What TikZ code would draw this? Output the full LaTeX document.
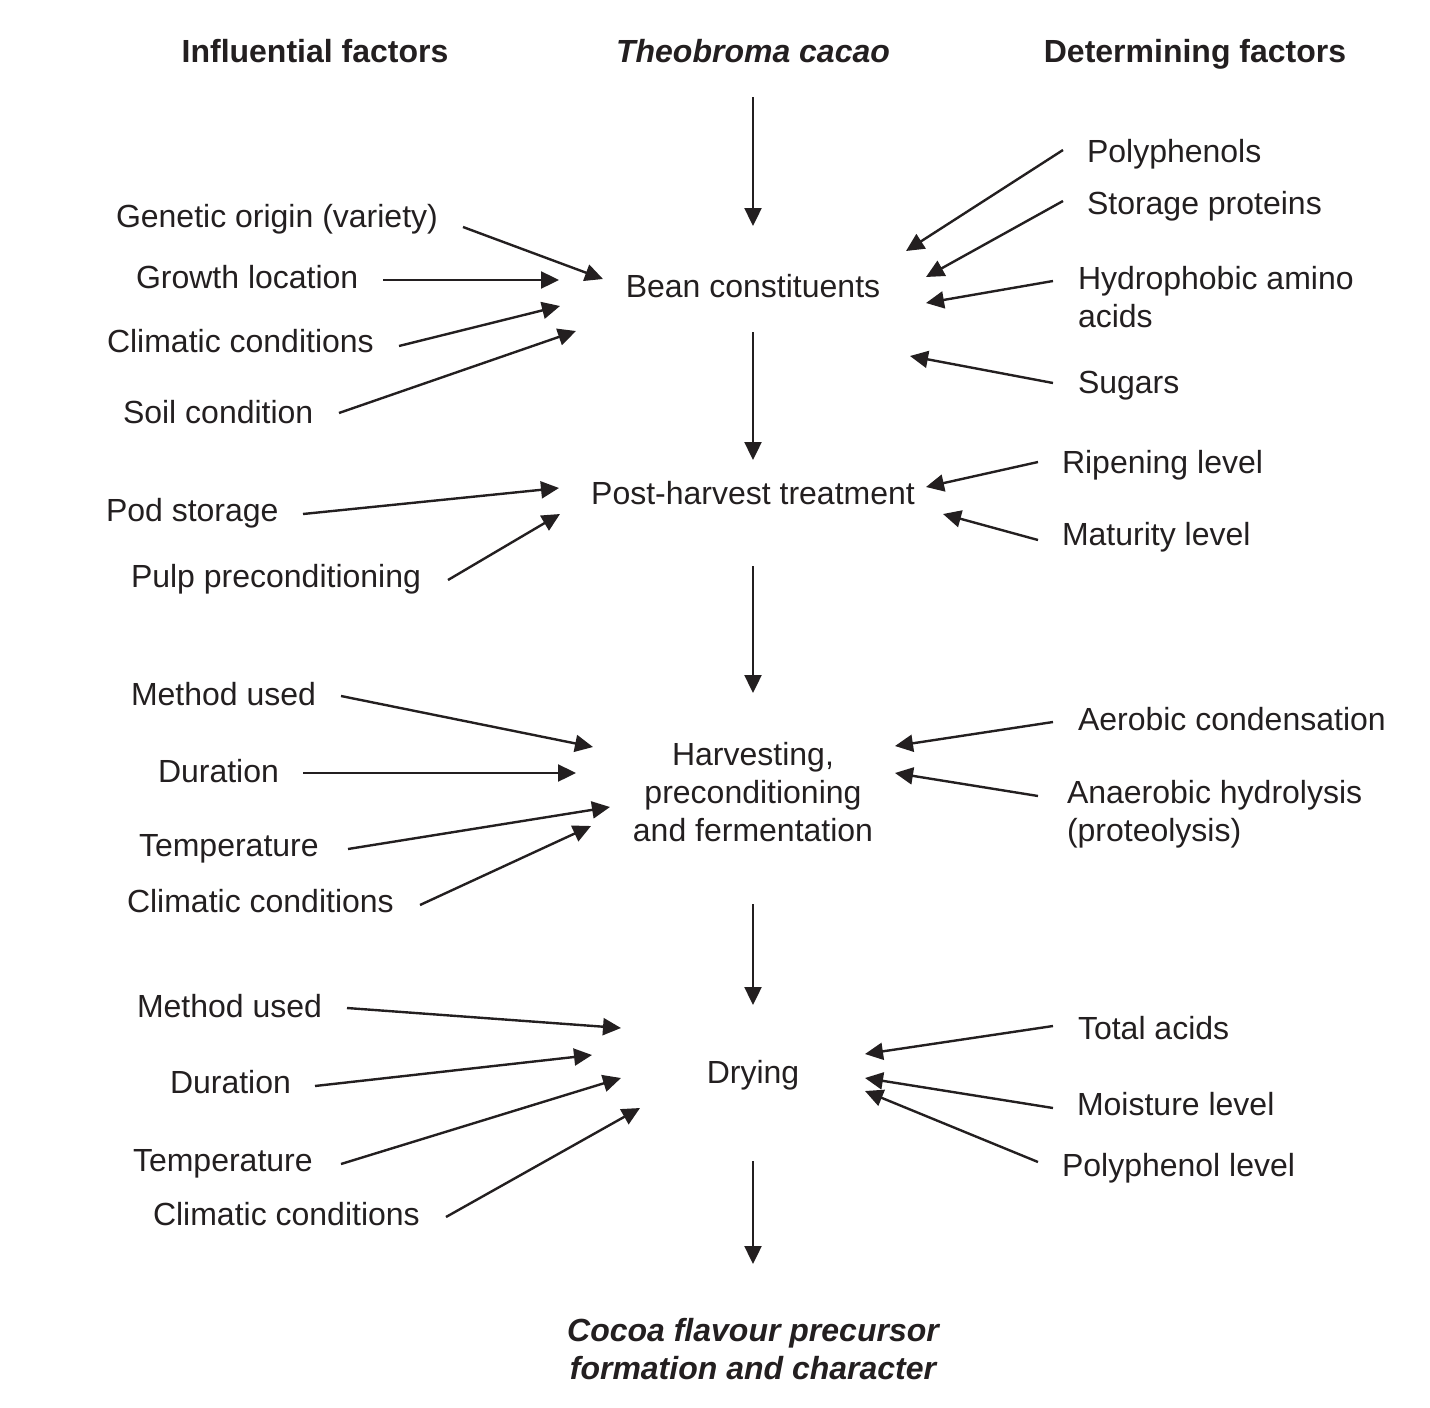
\documentclass[tikz,border=0pt]{standalone}
\usepackage{fontspec}
\setmainfont{Liberation Sans}
\usetikzlibrary{arrows.meta}
\definecolor{ink}{HTML}{231F20}
\begin{document}
\begin{tikzpicture}[x=0.5pt,y=-0.5pt,
  lbl/.style={inner sep=0pt,outer sep=0pt,text=ink,font=\fontsize{16}{19}\selectfont},
  lft/.style={lbl,anchor=base west},
  ctr/.style={lbl,anchor=base},
  head/.style={lbl,anchor=base,font=\fontsize{16}{19}\selectfont\bfseries},
  arr/.style={draw=ink,line width=1.2pt,-{Triangle[length=9pt,width=8.5pt]}}]
\useasboundingbox (0,0) rectangle (1430,1408);
% headings
\node[head] (hInf) at (315,62) {Influential factors};
\node[head,font=\fontsize{16}{19}\selectfont\bfseries\itshape] (hTheo) at (753,62) {Theobroma cacao};
\node[head] (hDet) at (1195,62) {Determining factors};
% centre column (multi-line nodes: base = last line)
\node[ctr] (bean) at (753,297) {Bean constituents};
\node[ctr] (post) at (753,504) {Post-harvest treatment};
\node[ctr,align=center] (harv) at (753,841) {Harvesting,\\preconditioning\\and fermentation};
\node[ctr] (dry) at (753,1083) {Drying};
\node[ctr,align=center,font=\fontsize{16}{19}\selectfont\bfseries\itshape] (cocoa) at (753,1379) {Cocoa flavour precursor\\formation and character};
% left labels
\node[lft] (L1) at (116,227) {Genetic origin (variety)};
\node[lft] (L2) at (136,288) {Growth location};
\node[lft] (L3) at (107,352) {Climatic conditions};
\node[lft] (L4) at (123,423) {Soil condition};
\node[lft] (L5) at (106,521) {Pod storage};
\node[lft] (L6) at (131,587) {Pulp preconditioning};
\node[lft] (L7) at (131,705) {Method used};
\node[lft] (L8) at (158,782) {Duration};
\node[lft] (L9) at (139,856) {Temperature};
\node[lft] (L10) at (127,912) {Climatic conditions};
\node[lft] (L11) at (137,1017) {Method used};
\node[lft] (L12) at (170,1093) {Duration};
\node[lft] (L13) at (133,1171) {Temperature};
\node[lft] (L14) at (153,1225) {Climatic conditions};
% right labels
\node[lft] (R1) at (1087,162) {Polyphenols};
\node[lft] (R2) at (1087,214) {Storage proteins};
\node[lft,align=left] (R3) at (1078,327) {Hydrophobic amino\\acids};
\node[lft] (R4) at (1078,393) {Sugars};
\node[lft] (R5) at (1062,473) {Ripening level};
\node[lft] (R6) at (1062,545) {Maturity level};
\node[lft] (R7) at (1078,730) {Aerobic condensation};
\node[lft,align=left] (R8) at (1067,841) {Anaerobic hydrolysis\\(proteolysis)};
\node[lft] (R9) at (1078,1039) {Total acids};
\node[lft] (R10) at (1077,1115) {Moisture level};
\node[lft] (R11) at (1062,1176) {Polyphenol level};
% centre arrows
\coordinate (c1a) at (753,97);   \coordinate (c1b) at (753,226);
\coordinate (c2a) at (753,332);  \coordinate (c2b) at (753,460);
\coordinate (c3a) at (753,566);  \coordinate (c3b) at (753,693);
\coordinate (c4a) at (753,904);  \coordinate (c4b) at (753,1005);
\coordinate (c5a) at (753,1161); \coordinate (c5b) at (753,1264);
\foreach \i in {1,...,5} \draw[arr] (c\i a) -- (c\i b);
% left arrows
\coordinate (l1a) at (463,227);  \coordinate (l1b) at (603,279);
\coordinate (l2a) at (383,280);  \coordinate (l2b) at (559,280);
\coordinate (l3a) at (399,346);  \coordinate (l3b) at (560,306);
\coordinate (l4a) at (339,413);  \coordinate (l4b) at (576,331);
\coordinate (l5a) at (303,514);  \coordinate (l5b) at (559,488);
\coordinate (l6a) at (448,580);  \coordinate (l6b) at (560,514);
\coordinate (l7a) at (341,696);  \coordinate (l7b) at (593,747);
\coordinate (l8a) at (303,773);  \coordinate (l8b) at (576,773);
\coordinate (l9a) at (348,849);  \coordinate (l9b) at (610,807);
\coordinate (l10a) at (420,905); \coordinate (l10b) at (591,826);
\coordinate (l11a) at (347,1008); \coordinate (l11b) at (621,1028);
\coordinate (l12a) at (315,1086); \coordinate (l12b) at (592,1055);
\coordinate (l13a) at (341,1164); \coordinate (l13b) at (621,1078);
\coordinate (l14a) at (446,1217); \coordinate (l14b) at (640,1108);
\foreach \i in {1,...,14} \draw[arr] (l\i a) -- (l\i b);
% right arrows
\coordinate (r1a) at (1063,150);  \coordinate (r1b) at (906,251);
\coordinate (r2a) at (1063,201);  \coordinate (r2b) at (926,277);
\coordinate (r3a) at (1053,281);  \coordinate (r3b) at (926,303);
\coordinate (r4a) at (1053,383);  \coordinate (r4b) at (910,356);
\coordinate (r5a) at (1038,462);  \coordinate (r5b) at (926,487);
\coordinate (r6a) at (1038,540);  \coordinate (r6b) at (943,514);
\coordinate (r7a) at (1053,722);  \coordinate (r7b) at (895,746);
\coordinate (r8a) at (1038,796);  \coordinate (r8b) at (895,773);
\coordinate (r9a) at (1053,1026); \coordinate (r9b) at (865,1054);
\coordinate (r10a) at (1053,1108); \coordinate (r10b) at (865,1078);
\coordinate (r11a) at (1038,1162); \coordinate (r11b) at (865,1091);
\foreach \i in {1,...,11} \draw[arr] (r\i a) -- (r\i b);
\end{tikzpicture}
\end{document}
